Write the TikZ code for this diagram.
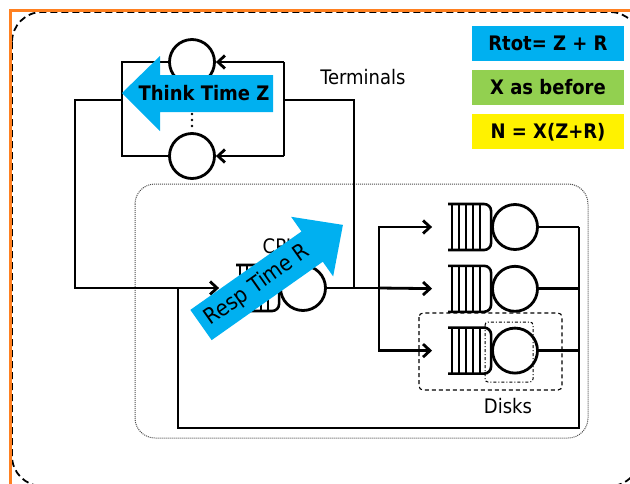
\documentclass[tikz,border=0pt]{standalone}
\usepackage{fontspec}
\setmainfont{DejaVu Sans Condensed}
\usepackage{xcolor}
\usepackage{tikz}
\usetikzlibrary{arrows.meta, positioning, calc}

\definecolor{respblue}{HTML}{00B0F0}
\definecolor{slidegreen}{HTML}{92D050}
\definecolor{slideorange}{RGB}{255,128,32}

\newcommand{\drawqueue}[1]{%
  \draw[qline, rounded corners=7pt] (#1.north west) -- (#1.north east) -- (#1.south east) -- (#1.south west);
  \foreach \bx in {4,11,18,25,32}
    \draw[qline] ([xshift=\bx pt]#1.north west) -- ([xshift=\bx pt]#1.south west);
}

\begin{document}
\begin{tikzpicture}[
    x=1pt, y=-1pt,
    line/.style={line width=2.8pt},
    arr/.style={line, -{Straight Barb[length=7pt,width=13pt]}},
    qline/.style={line width=2.6pt},
    server/.style={draw, circle, line width=2.8pt, minimum size=45pt, inner sep=0pt},
    queue/.style={minimum width=43pt, minimum height=46pt, inner sep=0pt, outer sep=0pt},
    lbl/.style={font=\fontsize{20}{24}\selectfont, inner sep=0pt},
    infobox/.style={minimum width=152pt, minimum height=35pt, inner sep=0pt, font=\bfseries\fontsize{20}{24}\selectfont}
]
\clip (0,0) rectangle (630,483);
\draw[dash pattern=on 7pt off 4pt, line width=1.8pt, rounded corners=30pt] (12,12) rectangle (640,486);
\draw[slideorange, line width=3.2pt] (10.5,500) -- (10.5,10.5) -- (640,10.5);
\draw[black!70, densely dotted, line width=1pt, rounded corners=20pt] (135,184) rectangle (588,438);

\node (thinkA) [server] at (192,62) {};
\node (thinkB) [server] at (192,156) {};
\coordinate (tNW) at (122,62);
\coordinate (tSW) at (122,156);
\coordinate (tNE) at (284,62);
\coordinate (tSE) at (284,156);
\coordinate (tW) at (122,100);
\coordinate (tE) at (284,100);
\draw[line] (thinkA) -- (tNW) -- (tSW) -- (thinkB);
\draw[line] (tNE) -- (tSE);
\draw[arr] (tNE) -- (thinkA);
\draw[arr] (tSE) -- (thinkB);
\foreach \dy in {114,120,126} \fill (192,\dy) circle (1.4pt);
\node (termlabel) [lbl] at (363,77) {Terminals};

\node (cpu) [server] at (303,288) {};
\node (cpuq) [queue, left=0pt of cpu] {};
\drawqueue{cpuq}
\node (cpulabel) [lbl] at (281,246) {CPU};

\node (diskA) [server] at (515,227) {};
\node (diskB) [server, below=14pt of diskA] {};
\node (diskC) [server, below=14pt of diskB] {};
\node (qA) [queue, left=0pt of diskA] {};
\node (qB) [queue, left=0pt of diskB] {};
\node (qC) [queue, left=0pt of diskC] {};
\drawqueue{qA}
\drawqueue{qB}
\drawqueue{qC}

\coordinate (lc) at (75,100);
\coordinate (fork) at (379,288);
\coordinate (up) at (354,288);
\coordinate (rTop) at (579,227);
\coordinate (fb) at (178,288);
\coordinate (bl) at (178,428);
\draw[arr, shorten >=17pt] (tW) -- (lc) |- (cpuq.west);
\draw[line] (cpu) -- (fork);
\draw[line] (up) |- (tE);
\draw[arr, shorten >=16pt] (fork) |- (qA.west);
\draw[arr, shorten >=16pt] (fork) -- (qB.west);
\draw[arr, shorten >=16pt] (fork) |- (qC.west);
\draw[line] (diskA) -- (rTop);
\draw[line] (diskB) -- (rTop |- diskB);
\draw[line] (diskC) -- (rTop |- diskC);
\draw[line] (fb) -- (bl) -| (rTop);

\draw[line width=1.1pt, dash pattern=on 4pt off 3pt, rounded corners=4pt] (419,313) rectangle (562,390);
\draw[line width=1pt, dash dot, rounded corners=3pt] (485,322) rectangle (533,382);
\node (disklabel) [lbl] at (508,406) {Disks};

\fill[respblue] (122,93) -- (160,56) -- (160,75) -- (273,75) -- (273,112) -- (160,112) -- (160,131) -- cycle;
\node (thinktime) [font=\bfseries\fontsize{20}{24}\selectfont] at (204,93) {Think Time Z};

\begin{scope}[shift={(201,325)}, rotate=35.2]
  \fill[respblue] (0,-18.5) -- (136,-18.5) -- (136,-36.5) -- (173.7,0) -- (136,36.5) -- (136,18.5) -- (0,18.5) -- cycle;
  \node (resptime) [rotate=35.2, font=\fontsize{22}{26}\selectfont] at (69,0) {Resp Time R};
\end{scope}

\node (rtot) [infobox, fill=respblue] at (548,43) {Rtot= Z + R};
\node (xbefore) [infobox, fill=slidegreen, below=9pt of rtot] {X as before};
\node (nlaw) [infobox, fill=yellow, below=9pt of xbefore] {N = X(Z+R)};
\end{tikzpicture}
\end{document}
